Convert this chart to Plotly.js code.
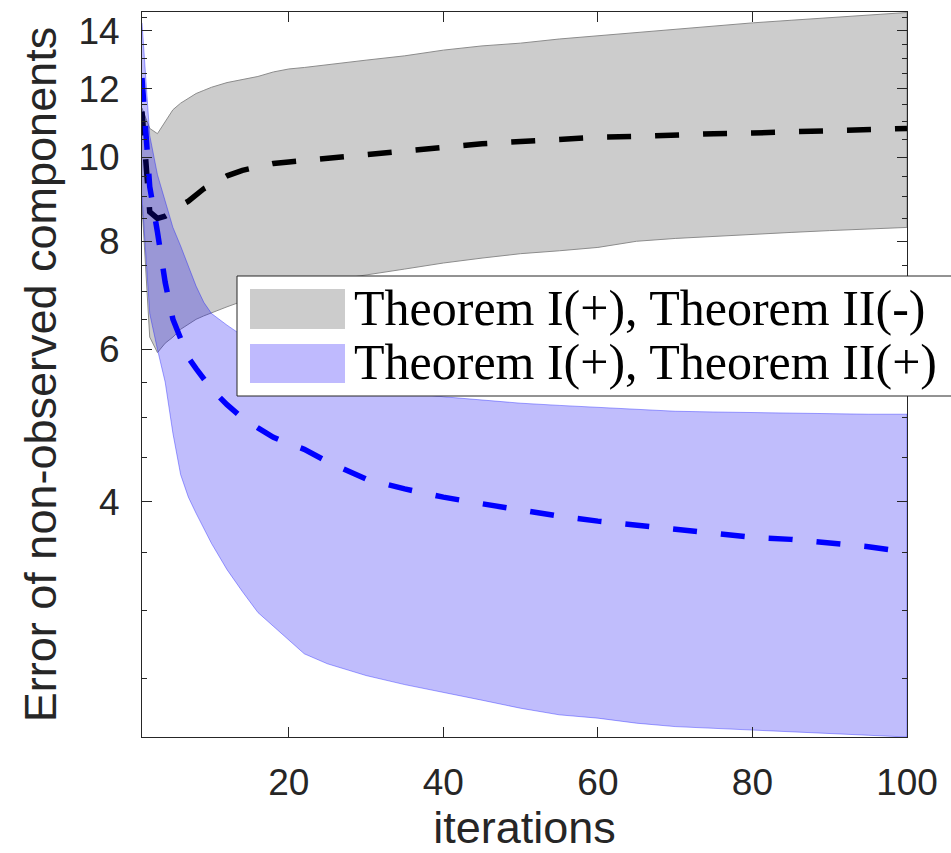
<!DOCTYPE html>
<html>
<head>
<meta charset="utf-8">
<script src="https://cdn.plot.ly/plotly-3.0.1.min.js"></script>
<style>html,body{margin:0;padding:0;background:#fff;}#chart{width:951px;height:853px;}</style>
</head>
<body>
<div id="chart"></div>
<script>
// ---- data ----
const iters = [1,2,3,4,5,6,7,8,9,10,12,14,16,18,20,22,25,30,35,40,45,50,55,60,65,70,75,80,85,90,95,100];

// Theorem I(+), Theorem II(-)  (gray band + black dashed mean)
const grayUpper = [11.4,10.8,10.65,11.0,11.35,11.55,11.7,11.85,11.95,12.05,12.2,12.3,12.4,12.55,12.65,12.7,12.8,12.95,13.1,13.3,13.45,13.55,13.7,13.82,13.95,14.05,14.18,14.3,14.4,14.5,14.6,14.7];
const grayLower = [8.8,6.2,5.95,6.1,6.2,6.33,6.42,6.5,6.56,6.62,6.72,6.82,6.9,6.98,7.05,7.1,7.2,7.32,7.43,7.55,7.65,7.74,7.8,7.87,8.0,8.06,8.1,8.15,8.19,8.23,8.27,8.3];
const grayMean  = [11.3,8.65,8.5,8.55,8.65,8.8,8.9,9.05,9.2,9.3,9.52,9.66,9.76,9.84,9.88,9.92,9.97,10.07,10.16,10.28,10.37,10.43,10.5,10.55,10.57,10.62,10.65,10.67,10.7,10.74,10.76,10.8];

// Theorem I(+), Theorem II(+)  (blue band + blue dashed mean)
const blueUpper = [14.3,10.6,9.55,8.9,8.3,7.9,7.5,7.1,6.8,6.6,6.4,6.22,6.05,5.9,5.78,5.68,5.56,5.43,5.35,5.29,5.24,5.2,5.17,5.14,5.11,5.09,5.08,5.07,5.06,5.06,5.05,5.05];
const blueLower = [9.0,6.6,6.0,5.5,4.8,4.3,4.05,3.88,3.72,3.58,3.34,3.15,2.98,2.87,2.77,2.67,2.6,2.52,2.46,2.41,2.36,2.31,2.27,2.25,2.22,2.2,2.19,2.18,2.17,2.16,2.15,2.14];
const blueMean  = [12.35,9.25,8.2,7.17,6.5,6.15,5.87,5.7,5.55,5.4,5.18,5.0,4.87,4.75,4.67,4.6,4.45,4.25,4.14,4.05,3.98,3.91,3.85,3.8,3.76,3.72,3.68,3.64,3.62,3.59,3.55,3.5];

const xTicks = [20,40,60,80,100];
const yTicks = [4,6,8,10,12,14];
const yMinorTicks = [2.5,3,3.5,4.5,5,5.5,6.5,7,7.5,8.5,9,9.5,10.5,11,11.5,12.5,13,13.5,14.5];
const legendLabels = ['Theorem I(+), Theorem II(-)', 'Theorem I(+), Theorem II(+)'];
const xTitle = 'iterations';
const yTitle = 'Error of non-observed components';

// ---- build ----
function band(upper, lower) {
  return {
    x: iters.concat(iters.slice().reverse()),
    y: upper.concat(lower.slice().reverse())
  };
}
const gb = band(grayUpper, grayLower);
const bb = band(blueUpper, blueLower);

const traces = [
  {x: gb.x, y: gb.y, type: 'scatter', mode: 'lines', fill: 'toself',
   fillcolor: 'rgb(204,204,204)', line: {color: 'rgb(140,140,140)', width: 1},
   showlegend: false, hoverinfo: 'skip'},
  {x: iters, y: grayMean, type: 'scatter', mode: 'lines',
   line: {color: '#000000', width: 5.5, dash: '24px,24px'}, showlegend: false},
  {x: bb.x, y: bb.y, type: 'scatter', mode: 'lines', fill: 'toself',
   fillcolor: 'rgba(10,0,245,0.26)', line: {color: 'rgba(0,0,255,0.35)', width: 1},
   showlegend: false, hoverinfo: 'skip'},
  {x: iters, y: blueMean, type: 'scatter', mode: 'lines',
   line: {color: '#0000ff', width: 5.5, dash: '24px,24px'}, showlegend: false}
];

const L = 142, R = 907, T = 12, B = 737, W = 951, H = 853;
const px = v => (v - L) / (R - L);
const py = v => (B - v) / (B - T);

const axisColor = '#262626';
const tickFont = {family: 'Liberation Sans, Arial, sans-serif', size: 37, color: axisColor};
const titleFont = {family: 'Liberation Sans, Arial, sans-serif', size: 45, color: axisColor};

const shapes = [
  {type: 'rect', xref: 'paper', yref: 'paper', x0: px(237), x1: px(960), y0: py(396), y1: py(276),
   fillcolor: '#ffffff', line: {color: axisColor, width: 1}, layer: 'above'},
  {type: 'rect', xref: 'paper', yref: 'paper', x0: px(250), x1: px(345), y0: py(329), y1: py(289),
   fillcolor: 'rgb(204,204,204)', line: {width: 0}, layer: 'above'},
  {type: 'rect', xref: 'paper', yref: 'paper', x0: px(250), x1: px(345), y0: py(383), y1: py(344),
   fillcolor: 'rgb(191,186,254)', line: {width: 0}, layer: 'above'}
];
const legendFont = {family: 'Liberation Serif, Times New Roman, serif', size: 50, color: '#000000'};
const annotations = [
  {xref: 'paper', yref: 'paper', x: px(352), y: py(308), xanchor: 'left', yanchor: 'middle',
   text: legendLabels[0], showarrow: false, font: legendFont},
  {xref: 'paper', yref: 'paper', x: px(352), y: py(362), xanchor: 'left', yanchor: 'middle',
   text: legendLabels[1], showarrow: false, font: legendFont}
];

const layout = {
  width: W, height: H,
  margin: {l: L, r: W - R, t: T, b: H - B, pad: 0},
  paper_bgcolor: '#ffffff', plot_bgcolor: '#ffffff',
  showlegend: false,
  xaxis: {
    range: [1, 100], tickmode: 'array', tickvals: xTicks,
    ticks: 'inside', ticklen: 10, tickwidth: 1, tickcolor: axisColor,
    showline: true, linecolor: axisColor, linewidth: 1, mirror: 'ticks',
    showgrid: false, zeroline: false, tickfont: tickFont, ticklabelstandoff: 13,
    title: {text: xTitle, font: titleFont, standoff: 9}
  },
  yaxis: {
    type: 'log', range: [Math.log10(2.14), Math.log10(14.72)],
    tickmode: 'array', tickvals: yTicks, ticktext: yTicks.map(String),
    ticks: 'inside', ticklen: 10, tickwidth: 1, tickcolor: axisColor,
    minor: {tickmode: 'array', tickvals: yMinorTicks, ticks: 'inside', ticklen: 5, tickwidth: 1, tickcolor: axisColor, showgrid: false},
    showline: true, linecolor: axisColor, linewidth: 1, mirror: 'allticks',
    showgrid: false, zeroline: false, tickfont: tickFont, ticklabelstandoff: 14,
    title: {text: yTitle, font: titleFont, standoff: 7}
  },
  shapes: shapes,
  annotations: annotations
};

Plotly.newPlot('chart', traces, layout, {staticPlot: true});
</script>
</body>
</html>
